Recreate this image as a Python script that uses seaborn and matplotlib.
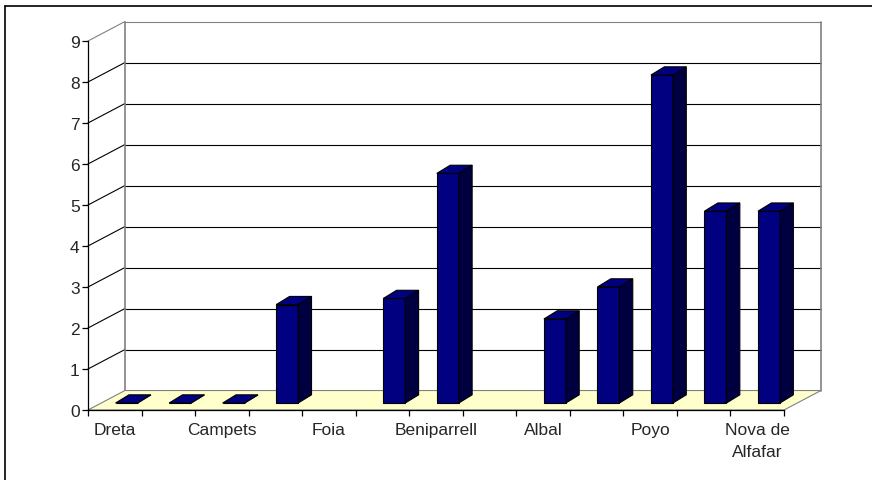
import numpy as np
import pandas as pd
import matplotlib
matplotlib.use("Agg")
import matplotlib.pyplot as plt
import matplotlib.transforms as mtransforms
from matplotlib.patches import Polygon
from matplotlib.lines import Line2D
import seaborn as sns

# Data (13 sites, every other one labelled on the axis)
tick_labels = ["Dreta", "", "Campets", "", "Foia", "", "Beniparrell", "",
               "Albal", "", "Poyo", "", "Nova de\nAlfafar"]
values = [0, 0, 0, 2.4, np.nan, 2.55, 5.6, np.nan, 2.05, 2.83, 8.0, 4.68, 4.68]
y_ticks = list(range(0, 10))

sns.set_theme(style="white")
plt.rcParams['font.family'] = ['Liberation Sans', 'DejaVu Sans']

df = pd.DataFrame({"pos": range(len(values)), "value": values}).dropna()

fig = plt.figure(figsize=(8.72, 4.81), dpi=100)
ax = fig.add_axes([88 / 872, 70 / 481, 696 / 872, 369 / 481])

n = len(values)
xmin, xmax = -0.5, n - 0.5
ymax = 9

# depth of the "3d" box and the bars, in data units
DX, DY = 0.69, 0.475
FX, FY = 0.22, 0.17     # where the bar fronts sit inside the box
SX, SY = 0.25, 0.2      # bar depth

grey = "#808080"

# floor
floor = Polygon([(xmin, 0), (xmax, 0), (xmax + DX, DY), (xmin + DX, DY)],
                closed=True, facecolor="#FFFFCC", edgecolor=grey, lw=0.8,
                zorder=1, clip_on=False)
ax.add_patch(floor)

# back wall gridlines and left wall diagonals
for k in y_ticks[1:]:
    c = grey if k == ymax else "black"
    ax.plot([xmin + DX, xmax + DX], [k + DY, k + DY], color=c, lw=0.8,
            zorder=0.5, clip_on=False)
    ax.plot([xmin, xmin + DX], [k, k + DY], color=c, lw=0.8,
            zorder=0.5, clip_on=False)
ax.plot([xmin + DX, xmin + DX], [DY, ymax + DY], color=grey, lw=1.2,
        zorder=0.6, clip_on=False)
ax.plot([xmax + DX, xmax + DX], [DY, ymax + DY], color=grey, lw=1.2,
        zorder=0.6, clip_on=False)

# bars
sns.barplot(data=df, x="pos", y="value", order=list(range(n)), ax=ax,
            color="#000080", saturation=1, width=0.41, errorbar=None,
            edgecolor="black", linewidth=0.8, zorder=3)

shift = mtransforms.Affine2D().translate(FX, FY) + ax.transData
for p in list(ax.patches):
    if p is floor:
        continue
    h = p.get_height()
    if np.isnan(h):
        continue
    x0 = p.get_x()
    x1 = x0 + p.get_width()
    p.set_transform(shift)
    p.set_clip_on(False)
    side = Polygon([(x1, 0), (x1 + SX, SY), (x1 + SX, h + SY), (x1, h)],
                   closed=True, facecolor="#000040", edgecolor="black",
                   lw=0.8, transform=shift, zorder=3, clip_on=False)
    top = Polygon([(x0, h), (x1, h), (x1 + SX, h + SY), (x0 + SX, h + SY)],
                  closed=True, facecolor="#000080", edgecolor="black",
                  lw=0.8, transform=shift, zorder=3, clip_on=False)
    ax.add_patch(side)
    ax.add_patch(top)

ax.set_xlim(xmin, xmax)
ax.set_ylim(0, ymax)
ax.set_facecolor("none")
for s in ["top", "right"]:
    ax.spines[s].set_visible(False)
for s in ["left", "bottom"]:
    ax.spines[s].set_color("black")
    ax.spines[s].set_linewidth(0.9)
    ax.spines[s].set_zorder(4)

ax.set_xticks(range(n))
ax.set_xticklabels(tick_labels, fontsize=12.5, linespacing=1.6)
ax.set_xticks(np.arange(xmin, xmax + 0.01, 1), minor=True)
ax.tick_params(axis="x", which="major", length=0, pad=8.5)
ax.tick_params(axis="x", which="minor", length=4.5, width=0.9,
               color="black", direction="out", bottom=True)
ax.set_yticks(y_ticks)
ax.tick_params(axis="y", length=4.5, width=0.9, color="black", pad=1.5,
               labelsize=12.5, left=True, direction="out")
ax.set_xlabel("")
ax.set_ylabel("")
ax.grid(False)

# outer frame (left and top edges visible)
fig.add_artist(Line2D([5 / 872, 5 / 872], [0, 1 - 7 / 481], color="black",
                      lw=1.2, transform=fig.transFigure))
fig.add_artist(Line2D([5 / 872, 1], [1 - 7 / 481, 1 - 7 / 481], color="black",
                      lw=1.2, transform=fig.transFigure))

fig.savefig("out.png", dpi=100)
